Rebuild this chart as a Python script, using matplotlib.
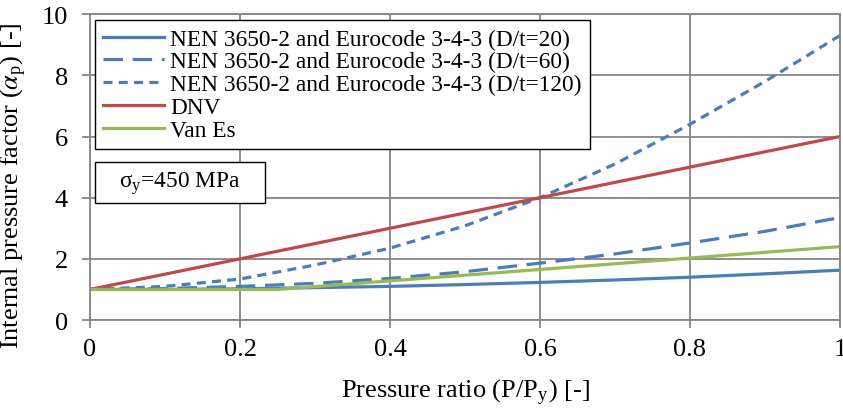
import matplotlib
matplotlib.use('Agg')
from matplotlib import pyplot as plt
from matplotlib.patches import Rectangle
import numpy as np

# pressure ratio P/Py
ratio = [0.0, 0.1, 0.2, 0.3, 0.4, 0.5, 0.6, 0.7, 0.8, 0.9, 1.0]

# internal pressure factor alpha_p
nen_dt20 = [1.0, 1.0, 1.02, 1.06, 1.1, 1.16, 1.23, 1.31, 1.4, 1.51, 1.63]
nen_dt60 = [1.0, 1.03, 1.1, 1.2, 1.36, 1.58, 1.86, 2.16, 2.52, 2.9, 3.35]
nen_dt120 = [1.0, 1.1, 1.34, 1.8, 2.35, 3.08, 4.0, 5.1, 6.4, 7.8, 9.3]
dnv = [1.0, 1.5, 2.0, 2.5, 3.0, 3.5, 4.0, 4.5, 5.0, 5.5, 6.0]
vanes_x = [0.0, 0.25, 1.0]
vanes = [1.0, 1.0, 2.4]

labels = ['NEN 3650-2 and Eurocode 3-4-3 (D/t=20)',
          'NEN 3650-2 and Eurocode 3-4-3 (D/t=60)',
          'NEN 3650-2 and Eurocode 3-4-3 (D/t=120)',
          'DNV', 'Van Es']

x_ticks = [0, 0.2, 0.4, 0.6, 0.8, 1]
x_ticklabels = ['0', '0.2', '0.4', '0.6', '0.8', '1']
y_ticks = [0, 2, 4, 6, 8, 10]

plt.rcParams['font.family'] = ['Liberation Serif', 'DejaVu Serif']
plt.rcParams['mathtext.fontset'] = 'stix'
plt.rcParams['lines.scale_dashes'] = False

blue = '#4A7EBB'
red = '#BE4B48'
green = '#98B954'
gray = '#868686'
fs = 19
fs_leg = 16.8


def main():
    fig = plt.figure(figsize=(8.43, 4.10), dpi=100)
    ax = fig.add_axes([0.1068, 0.217, 0.8896, 0.746])

    lw = 2.3
    ax.plot(ratio, nen_dt20, c=blue, lw=lw, label=labels[0])
    ax.plot(ratio, nen_dt60, c=blue, lw=lw, dashes=[14, 7], label=labels[1])
    ax.plot(ratio, nen_dt120, c=blue, lw=lw, dashes=[6.5, 4.5], label=labels[2])
    ax.plot(ratio, dnv, c=red, lw=lw, label=labels[3])
    ax.plot(vanes_x, vanes, c=green, lw=lw, label=labels[4])

    ax.set_xlim(0, 1)
    ax.set_ylim(0, 10)
    ax.set_xticks(x_ticks)
    ax.set_xticklabels(x_ticklabels)
    ax.set_yticks(y_ticks)
    ax.grid(True, color=gray, lw=1.3)
    ax.set_axisbelow(True)
    for s in ax.spines.values():
        s.set_color(gray)
        s.set_linewidth(1.3)
    ax.tick_params(axis='both', colors='black', labelsize=fs, length=6,
                   width=1.3, color=gray, direction='out')
    ax.tick_params(axis='x', pad=7)
    ax.tick_params(axis='y', pad=10)

    ax.set_xlabel('Pressure ratio (P/P$_\\mathregular{y}$) [-]', fontsize=fs, labelpad=12)
    ax.set_ylabel('Internal pressure factor ($\\alpha_\\mathregular{p}$) [-]', fontsize=fs)
    ax.yaxis.set_label_coords(-0.082, 0.441)

    leg = ax.legend(loc='upper left', bbox_to_anchor=(0.0067, 0.980), fontsize=fs_leg,
                    frameon=True, fancybox=False, framealpha=1, edgecolor='black',
                    handlelength=2.6, handletextpad=0.26, labelspacing=0.06,
                    borderpad=0.35, borderaxespad=0)
    leg.get_frame().set_linewidth(1.0)

    ax.add_patch(Rectangle((0.0067, 0.382), 0.2266, 0.134, transform=ax.transAxes,
                           fc='white', ec='black', lw=1.0, zorder=5))
    ax.text(0.12, 0.449, '$\\mathregular{\\sigma_y}$=450 MPa', transform=ax.transAxes,
            fontsize=fs_leg, ha='center', va='center', zorder=6)

    fig.savefig('out.png', dpi=100)


if __name__ == '__main__':
    main()
